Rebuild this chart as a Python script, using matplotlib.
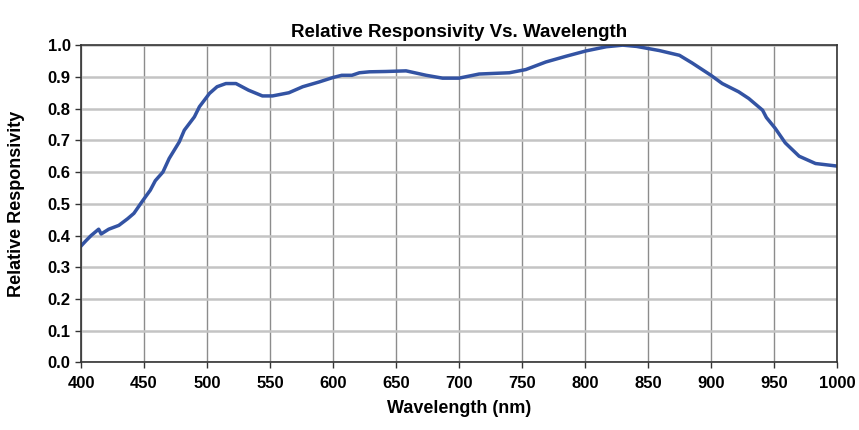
import matplotlib.pyplot as plt

# Wavelength (nm) and relative responsivity
wavelength = [400, 404, 408, 414, 416, 422, 430, 437, 442, 449, 455, 459, 465, 470,
              478, 482, 490, 494, 502, 508, 515, 523, 533, 544, 552, 565, 576, 589,
              600, 607, 615, 621, 629, 642, 658, 674, 687, 700, 716, 740, 753, 769,
              785, 801, 817, 830, 841, 859, 875, 885, 900, 909, 922, 930, 941, 944,
              951, 959, 970, 983, 1000]
responsivity = [0.367, 0.384, 0.400, 0.420, 0.405, 0.420, 0.432, 0.453, 0.470, 0.510,
                0.543, 0.573, 0.600, 0.643, 0.695, 0.732, 0.774, 0.806, 0.848, 0.869,
                0.879, 0.879, 0.858, 0.840, 0.840, 0.850, 0.869, 0.884, 0.898, 0.905,
                0.905, 0.913, 0.916, 0.917, 0.919, 0.905, 0.896, 0.896, 0.909, 0.913,
                0.923, 0.947, 0.965, 0.982, 0.995, 1.000, 0.996, 0.983, 0.968, 0.944,
                0.905, 0.879, 0.853, 0.832, 0.795, 0.772, 0.738, 0.692, 0.650, 0.627,
                0.619]

xticks = list(range(400, 1001, 50))
yticks = [i / 10 for i in range(11)]

plt.rcParams['font.family'] = ['Liberation Sans', 'DejaVu Sans']

fig = plt.figure(figsize=(8.59, 4.30), dpi=100)
ax = fig.add_axes([0.0943, 0.157, 0.880, 0.738])

ax.plot(wavelength, responsivity, color='#3353a3', linewidth=2.5)

ax.set_xlim(400, 1000)
ax.set_ylim(0, 1.0)
ax.set_xticks(xticks)
ax.set_yticks(yticks)
ax.set_yticklabels([f'{v:.1f}' for v in yticks])

ax.xaxis.grid(True, color='#8c8c8c', linewidth=1.0)
ax.yaxis.grid(True, color='#c4c4c4', linewidth=1.8)
ax.set_axisbelow(True)

for s in ax.spines.values():
    s.set_color('#333333')
    s.set_linewidth(1.2)

ax.tick_params(axis='both', direction='out', length=4, width=1, color='#333333',
               labelsize=12)
ax.tick_params(axis='x', pad=6)
for lab in ax.get_xticklabels() + ax.get_yticklabels():
    lab.set_fontweight('bold')

ax.set_title('Relative Responsivity Vs. Wavelength', fontsize=13.5, fontweight='bold', pad=6)
ax.set_xlabel('Wavelength (nm)', fontsize=13, fontweight='bold', labelpad=6)
ax.set_ylabel('Relative Responsivity', fontsize=13, fontweight='bold')
ax.yaxis.set_label_coords(-0.074, 0.5)

plt.savefig('out.png', dpi=100)
